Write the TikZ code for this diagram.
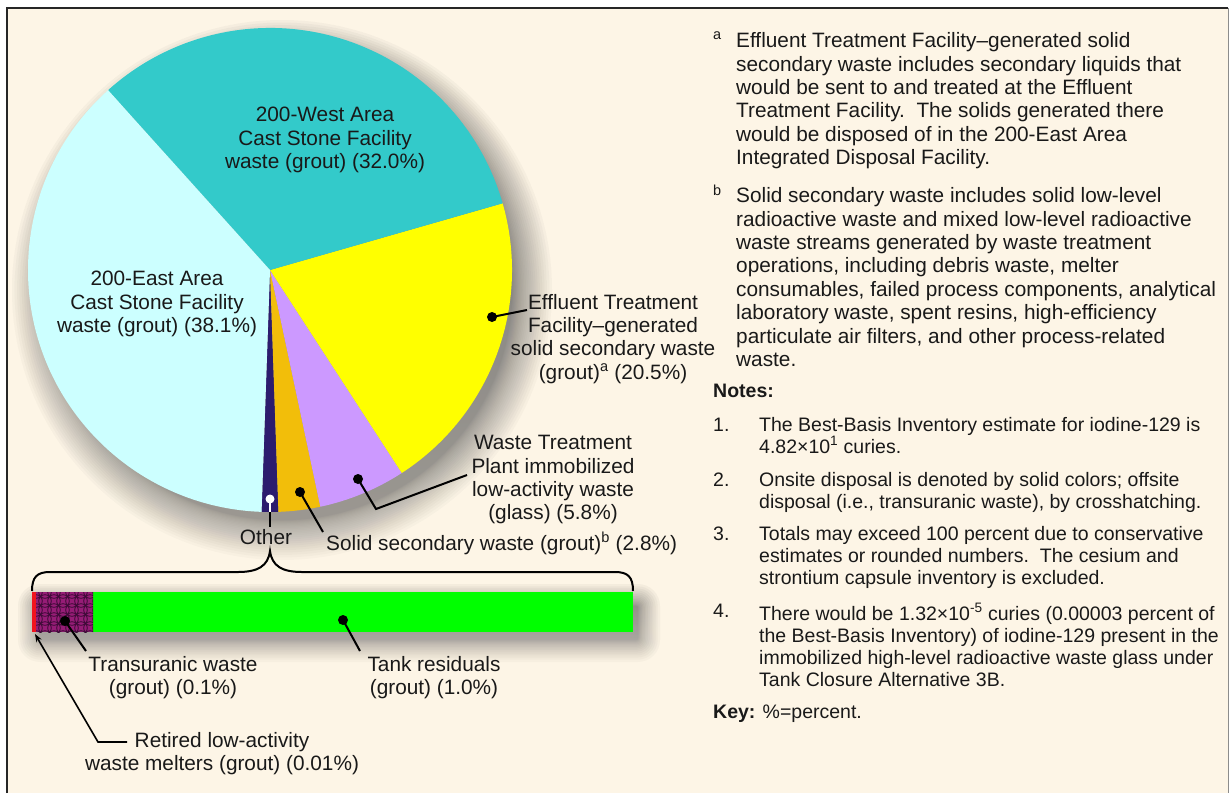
\documentclass[tikz,border=0pt]{standalone}
\usepackage{fontspec}
\setmainfont{Liberation Sans}
\usetikzlibrary{arrows.meta}

\definecolor{paper}{RGB}{253,245,230}
\definecolor{ink}{RGB}{25,25,25}
\definecolor{westteal}{RGB}{51,202,202}
\definecolor{eastcyan}{RGB}{204,255,255}
\definecolor{effyellow}{RGB}{255,255,0}
\definecolor{wtplav}{RGB}{204,153,255}
\definecolor{ssgold}{RGB}{242,190,10}
\definecolor{othnavy}{RGB}{44,28,110}
\definecolor{tankgreen}{RGB}{0,255,0}
\definecolor{meltred}{RGB}{240,20,30}
\definecolor{trumag}{RGB}{150,28,118}
\definecolor{trunet}{RGB}{55,10,50}
\definecolor{shade}{RGB}{130,115,95}

\begin{document}
\begin{tikzpicture}[x=1pt,y=-1pt,
  lbl/.style={font=\fontsize{20.8}{23.3}\selectfont, text=ink, align=center, inner sep=0pt},
  fntext/.style={font=\fontsize{20.8}{23.4}\selectfont, text=ink, align=left, inner sep=0pt, anchor=north west},
  fnmark/.style={font=\fontsize{14.5}{16}\selectfont, text=ink, inner sep=0pt, anchor=base west},
  notetext/.style={font=\fontsize{19.5}{22}\selectfont, text=ink, align=left, inner sep=0pt, anchor=north west},
  notenum/.style={font=\fontsize{19.5}{22}\selectfont, text=ink, inner sep=0pt, anchor=base west},
  blackdot/.style={circle, fill=black, inner sep=0pt, minimum size=10pt},
  leader/.style={draw=black, line width=2pt},
]
\useasboundingbox (0,0) rectangle (1231,793);
\fill[white] (0,0) rectangle (1231,793);
\fill[paper] (7,8) rectangle (1228,793);
\draw[black!85, line width=2.2pt] (7,793) -- (7,8) -- (1228,8);
\draw[black!45, line width=1pt] (1228,8) -- (1228,793);

% soft shadow under the pie: layers packed near the rim, thinning outwards
\foreach \k in {1,...,26}
  \fill[shade, opacity=0.02] (282,290) circle[radius={230pt+40pt*(\k/26)^1.7}];

% pie slices (angles counter-clockwise from the right)
\coordinate (pc) at (270,270);
\foreach \a/\b/\c in {-92/-88/othnavy, -88/-78/ssgold, -78/-57/wtplav,
                      -57/16/effyellow, 16/132/westteal, 132/268/eastcyan}
  \fill[\c] (pc) -- ++(\a:242pt) arc[start angle=\a, end angle=\b, radius=242pt] -- cycle;

% soft shadow under the bar
\foreach \k in {1,...,16}
  \fill[shade, opacity=0.022, rounded corners={2pt+20pt*(\k/16)^1.7}]
    ({40-22*(\k/16)^1.7},{606-22*(\k/16)^1.7})
    rectangle ({638+22*(\k/16)^1.7},{640+22*(\k/16)^1.7});

% breakdown bar of "Other"
\fill[tankgreen] (93,592) rectangle (633,632);
\fill[trumag] (36,592) rectangle (93,632);
\begin{scope}
  \clip (36,592) rectangle (93,632);
  \foreach \i in {0,...,7}
    \foreach \j in {0,...,5}
      \draw[trunet, line width=0.8pt] ({36+9*\i},{592+9*\j}) circle[radius=6.3pt];
\end{scope}
\fill[meltred] (32,592) rectangle (36,632);

% brace linking "Other" to the bar
\draw[line width=2pt, black] (32,591) .. controls (32,577) and (37,572) .. (50,572)
  -- (238,572) .. controls (258,572) and (268,566) .. (270,551)
  .. controls (272,566) and (282,572) .. (302,572)
  -- (615,572) .. controls (628,572) and (633,577) .. (633,591);

% leader dots and lines
\node[blackdot] (effdot) at (492,317) {};
\coordinate (effend) at (527,310);
\draw[leader] (effdot.center) -- (effend);

\node[blackdot] (wtpdot) at (358,479) {};
\coordinate (wtpbend) at (376,509);
\coordinate (wtpend) at (467,475);
\draw[leader] (wtpdot.center) -- (wtpbend) -- (wtpend);

\node[blackdot] (ssdot) at (300,492) {};
\coordinate (ssend) at (323,532);
\draw[leader] (ssdot.center) -- (ssend);

\node[circle, fill=white, inner sep=0pt, minimum size=9pt] (othdot) at (270,499) {};
\coordinate (othrim) at (270,512);
\coordinate (othend) at (270,527);
\draw[white, line width=2pt] (othdot.center) -- (othrim);
\draw[black, line width=2pt] (othrim) -- (othend);

\node[blackdot] (trudot) at (65,621) {};
\coordinate (truend) at (86,651);
\draw[leader] (trudot.center) -- (truend);

\node[blackdot] (tankdot) at (343,620) {};
\coordinate (tankend) at (360,651);
\draw[leader] (tankdot.center) -- (tankend);

\coordinate (meltstart) at (127,742);
\coordinate (meltbend) at (98,742);
\coordinate (melttip) at (35,634);
\draw[line width=1.6pt, -{Stealth[length=8pt,width=6pt]}] (meltstart) -- (meltbend) -- (melttip);

% slice and bar labels
\node[lbl, anchor=north] (westlbl) at (325,107) {200-West Area\\Cast Stone Facility\\waste (grout) (32.0\%)};
\node[lbl, anchor=north] (eastlbl) at (157,271) {200-East Area\\Cast Stone Facility\\waste (grout) (38.1\%)};
\node[lbl, anchor=north] (efflbl) at (613,294) {Effluent Treatment\\Facility–generated\\solid secondary waste\\(grout)\textsuperscript{a} (20.5\%)};
\node[lbl, anchor=north] (wtplbl) at (553,435.4) {Waste Treatment\\Plant immobilized\\low-activity waste\\(glass) (5.8\%)};
\node[lbl, anchor=base] (othlbl) at (266,544) {Other};
\node[lbl, anchor=base west] (sslbl) at (326,550) {Solid secondary waste (grout)\textsuperscript{b} (2.8\%)};
\node[lbl, anchor=north] (trulbl) at (173,656.4) {Transuranic waste\\(grout) (0.1\%)};
\node[lbl, anchor=north] (tanklbl) at (434,656.4) {Tank residuals\\(grout) (1.0\%)};
\node[lbl, anchor=north] (meltlbl) at (222,731.9) {Retired low-activity\\waste melters (grout) (0.01\%)};

% footnotes
\node[fnmark] (amark) at (713,39) {a};
\node[fntext] (fna) at (736,32.4) {Effluent Treatment Facility–generated solid\\
secondary waste includes secondary liquids that\\
would be sent to and treated at the Effluent\\
Treatment Facility.\ \ The solids generated there\\
would be disposed of in the 200-East Area\\
Integrated Disposal Facility.};
\node[fnmark] (bmark) at (713,195) {b};
\node[fntext] (fnb) at (736,187.5) {Solid secondary waste includes solid low-level\\
radioactive waste and mixed low-level radioactive\\
waste streams generated by waste treatment\\
operations, including debris waste, melter\\
consumables, failed process components, analytical\\
laboratory waste, spent resins, high-efficiency\\
particulate air filters, and other process-related\\
waste.};

% notes
\node[notenum, font=\fontsize{19.5}{22}\selectfont\bfseries] (noteshead) at (713,397) {Notes:};
\node[notenum] (n1) at (713,431) {1.};
\node[notetext] (t1) at (759,416.9) {The Best-Basis Inventory estimate for iodine-129 is\\
4.82×10\textsuperscript{1} curies.};
\node[notenum] (n2) at (713,486) {2.};
\node[notetext] (t2) at (759,471.9) {Onsite disposal is denoted by solid colors; offsite\\
disposal (i.e., transuranic waste), by crosshatching.};
\node[notenum] (n3) at (713,540) {3.};
\node[notetext] (t3) at (759,525.9) {Totals may exceed 100 percent due to conservative\\
estimates or rounded numbers.\ \ The cesium and\\
strontium capsule inventory is excluded.};
\node[notenum] (n4) at (713,617) {4.};
\node[notetext] (t4) at (759,602.9) {There would be 1.32×10\textsuperscript{-5} curies (0.00003 percent of\\
the Best-Basis Inventory) of iodine-129 present in the\\
immobilized high-level radioactive waste glass under\\
Tank Closure Alternative 3B.};
\node[notenum] (keyline) at (713,718) {\textbf{Key:} \%=percent.};
\end{tikzpicture}
\end{document}
